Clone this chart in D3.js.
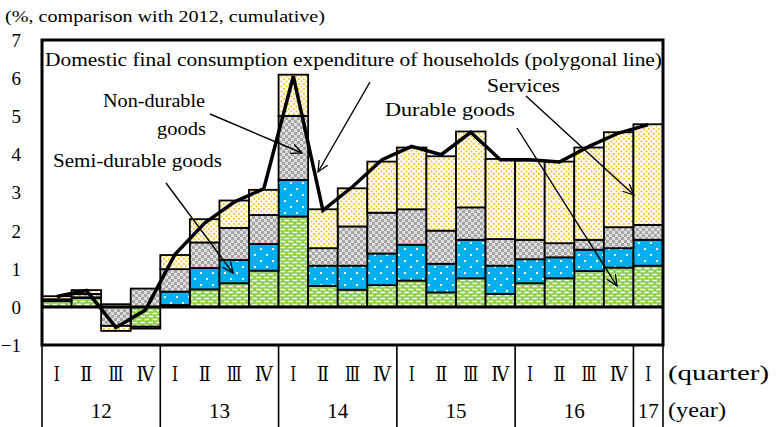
<!DOCTYPE html>
<html>
<head>
<meta charset="utf-8">
<script src="https://cdn.jsdelivr.net/npm/d3@7"></script>
<style>
  html, body { margin: 0; padding: 0; background: #fff; }
  svg { display: block; }
</style>
</head>
<body>
<svg id="chart" width="778" height="427"></svg>
<script>
// ---- data ----
const quarters = ["Ⅰ","Ⅱ","Ⅲ","Ⅳ","Ⅰ","Ⅱ","Ⅲ","Ⅳ","Ⅰ","Ⅱ","Ⅲ","Ⅳ","Ⅰ","Ⅱ","Ⅲ","Ⅳ","Ⅰ","Ⅱ","Ⅲ","Ⅳ","Ⅰ"];
const years = ["12","13","14","15","16","17"];
const yearQuarterCounts = [4,4,4,4,4,1];
const seriesNames = ["Durable goods","Semi-durable goods","Non-durable goods","Services"];
const durable     = [0.15, 0.23, 0.07, -0.52, 0.05, 0.46, 0.62, 0.95, 2.37, 0.55, 0.45, 0.57, 0.69, 0.38, 0.75, 0.34, 0.62, 0.75, 0.94, 1.03, 1.08];
const semiDurable = [0.00, 0.02, 0.00, 0.00, 0.35, 0.56, 0.61, 0.70, 0.96, 0.53, 0.63, 0.83, 0.94, 0.75, 1.01, 0.74, 0.63, 0.55, 0.56, 0.51, 0.68];
const nonDurable  = [0.05, 0.09, -0.50, 0.48, 0.59, 0.67, 0.84, 0.76, 1.68, 0.46, 1.03, 1.07, 0.93, 0.87, 0.85, 0.70, 0.51, 0.37, 0.26, 0.55, 0.39];
const services    = [0.08, 0.10, -0.13, -0.05, 0.37, 0.61, 0.72, 0.66, 1.08, 1.02, 1.00, 1.34, 1.62, 1.95, 1.99, 2.10, 2.08, 2.14, 2.42, 2.49, 2.64];
const total       = [0.27, 0.43, -0.54, -0.08, 1.38, 2.20, 2.75, 3.10, 6.05, 2.53, 3.15, 3.86, 4.21, 3.99, 4.58, 3.86, 3.86, 3.80, 4.21, 4.56, 4.78];
const yTicks = [-1,0,1,2,3,4,5,6,7];
const tickLabels = ["−1","0","1","2","3","4","5","6","7"];

// ---- layout ----
const SERIF = "'Liberation Serif', 'Times New Roman', serif";
const svg = d3.select("#chart");
const L = 42, R = 663, T = 40, B = 345;
const x = d3.scaleBand().domain(d3.range(quarters.length)).range([L, R]).padding(0);
const y = d3.scaleLinear().domain([-1, 7]).range([B, T]);

// patterns
const defs = svg.append("defs");
const pg = defs.append("pattern").attr("id","pGreen").attr("patternUnits","userSpaceOnUse").attr("width",8).attr("height",6);
pg.append("rect").attr("width",8).attr("height",6).attr("fill","#92d050");
pg.append("rect").attr("x",0.5).attr("y",0.8).attr("width",4.5).attr("height",1.4).attr("fill","#fff");
pg.append("rect").attr("x",4.5).attr("y",3.8).attr("width",4.5).attr("height",1.4).attr("fill","#fff");
pg.append("rect").attr("x",-3.5).attr("y",3.8).attr("width",4.5).attr("height",1.4).attr("fill","#fff");

const pb = defs.append("pattern").attr("id","pBlue").attr("patternUnits","userSpaceOnUse").attr("width",12).attr("height",12);
pb.append("rect").attr("width",12).attr("height",12).attr("fill","#00b0f0");
pb.append("rect").attr("x",2).attr("y",2).attr("width",2).attr("height",2).attr("fill","#fff");
pb.append("rect").attr("x",8).attr("y",8).attr("width",2).attr("height",2).attr("fill","#fff");

const pgr = defs.append("pattern").attr("id","pGray").attr("patternUnits","userSpaceOnUse").attr("width",6).attr("height",6);
pgr.append("rect").attr("width",6).attr("height",6).attr("fill","#dedede");
pgr.append("rect").attr("x",0).attr("y",0).attr("width",3).attr("height",3).attr("fill","#a6a6a6");
pgr.append("rect").attr("x",3).attr("y",3).attr("width",3).attr("height",3).attr("fill","#a6a6a6");

const py = defs.append("pattern").attr("id","pYellow").attr("patternUnits","userSpaceOnUse").attr("width",5).attr("height",5);
py.append("rect").attr("width",5).attr("height",5).attr("fill","#fff");
py.append("rect").attr("x",0.5).attr("y",0.5).attr("width",1.8).attr("height",1.8).attr("fill","#ffc000");
py.append("rect").attr("x",3).attr("y",3).attr("width",1.8).attr("height",1.8).attr("fill","#ffc000");

const marker = defs.append("marker").attr("id","arrow").attr("viewBox","0 0 12 12")
  .attr("refX",11).attr("refY",6).attr("markerWidth",12).attr("markerHeight",12)
  .attr("markerUnits","userSpaceOnUse").attr("orient","auto");
marker.append("path").attr("d","M0,1 L11,6 L0,11").attr("fill","none").attr("stroke","#000").attr("stroke-width",1.3);

const fills = ["url(#pGreen)","url(#pBlue)","url(#pGray)","url(#pYellow)"];

// stacked data
const rows = quarters.map((q,i) => ({i, s0: durable[i], s1: semiDurable[i], s2: nonDurable[i], s3: services[i]}));
const stack = d3.stack().keys(["s0","s1","s2","s3"]).offset(d3.stackOffsetDiverging);
const stacked = stack(rows);

const gBars = svg.append("g");
stacked.forEach((layer, k) => {
  gBars.selectAll(null).data(layer).join("rect")
    .attr("x", d => x(d.data.i))
    .attr("width", x.bandwidth())
    .attr("y", d => y(Math.max(d[0], d[1])))
    .attr("height", d => Math.abs(y(d[0]) - y(d[1])))
    .attr("fill", fills[k])
    .attr("stroke", "#000")
    .attr("stroke-width", 1.8);
});

// zero line
svg.append("line").attr("x1",L).attr("x2",R).attr("y1",y(0)).attr("y2",y(0)).attr("stroke","#000").attr("stroke-width",3);

// total line
const line = d3.line().x((d,i) => x(i) + x.bandwidth()/2).y(d => y(d));
svg.append("path").datum(total).attr("d", line).attr("fill","none").attr("stroke","#000").attr("stroke-width",3.5).attr("stroke-linejoin","miter");

// frame
svg.append("rect").attr("x",L).attr("y",T).attr("width",R-L).attr("height",B-T).attr("fill","none").attr("stroke","#000").attr("stroke-width",3);

// helper for text
function txt(g, s, xx, yy, size, width, anchor) {
  const t = g.append("text").attr("x",xx).attr("y",yy)
    .style("font-family", SERIF).style("font-size", size + "px").style("fill","#000")
    .attr("text-anchor", anchor || "start").text(s);
  if (width) t.attr("textLength", width).attr("lengthAdjust","spacingAndGlyphs");
  return t;
}

// y tick labels
const yAxis = d3.axisLeft(y).tickValues(yTicks).tickSize(0).tickPadding(0).tickFormat((d,i) => tickLabels[i]);
const gy = svg.append("g").attr("transform","translate(21,0)").call(yAxis);
gy.select(".domain").remove();
gy.selectAll("text").style("font-family", SERIF).style("font-size","19px").style("fill","#000").attr("dy","0.34em");

// bottom table
const gt = svg.append("g");
let acc = 0;
const bounds = [0];
yearQuarterCounts.forEach(c => { acc += c; bounds.push(acc); });
bounds.forEach(b => {
  const xx = b < quarters.length ? x(b) : R;
  gt.append("line").attr("x1",xx).attr("x2",xx).attr("y1",B).attr("y2",427).attr("stroke","#000").attr("stroke-width",1.6);
});
const qWidth = {"Ⅰ":6, "Ⅱ":12, "Ⅲ":15, "Ⅳ":18};
quarters.forEach((q,i) => {
  gt.append("text").attr("x", x(i) + x.bandwidth()/2).attr("y", 381)
    .style("font-family", "'DejaVu Serif', 'Liberation Serif', serif").style("font-size","20px").style("fill","#000")
    .attr("text-anchor","middle").attr("textLength", qWidth[q]).attr("lengthAdjust","spacingAndGlyphs").text(q);
});
years.forEach((yr, k) => {
  const x0 = x(bounds[k]);
  const x1 = bounds[k+1] < quarters.length ? x(bounds[k+1]) : R;
  txt(gt, yr, (x0+x1)/2, 418, 21, null, "middle");
});
txt(gt, "(quarter)", 668, 380, 21, 101);
txt(gt, "(year)", 668, 417, 21, 58);

// title
txt(svg, "(%, comparison with 2012, cumulative)", 5, 22, 17, 320);

// annotations
const ann = svg.append("g");
txt(ann, "Domestic final  consumption expenditure of households (polygonal line)", 45, 66, 18, 617);
txt(ann, "Non-durable", 103, 107, 18, 102);
txt(ann, "goods", 157, 135, 18, 49);
txt(ann, "Semi-durable goods", 53, 167, 18, 169);
txt(ann, "Services", 487, 92, 18, 73);
txt(ann, "Durable goods", 385, 116, 18, 130);

const arrows = [
  [210,114,302,153],
  [370,82,318,172],
  [166,183,233,273],
  [517,128,617,286],
  [526,96,634,195]
];
svg.append("g").selectAll("line").data(arrows).join("line")
  .attr("x1",d=>d[0]).attr("y1",d=>d[1]).attr("x2",d=>d[2]).attr("y2",d=>d[3])
  .attr("stroke","#000").attr("stroke-width",1.4).attr("marker-end","url(#arrow)");
</script>
</body>
</html>
